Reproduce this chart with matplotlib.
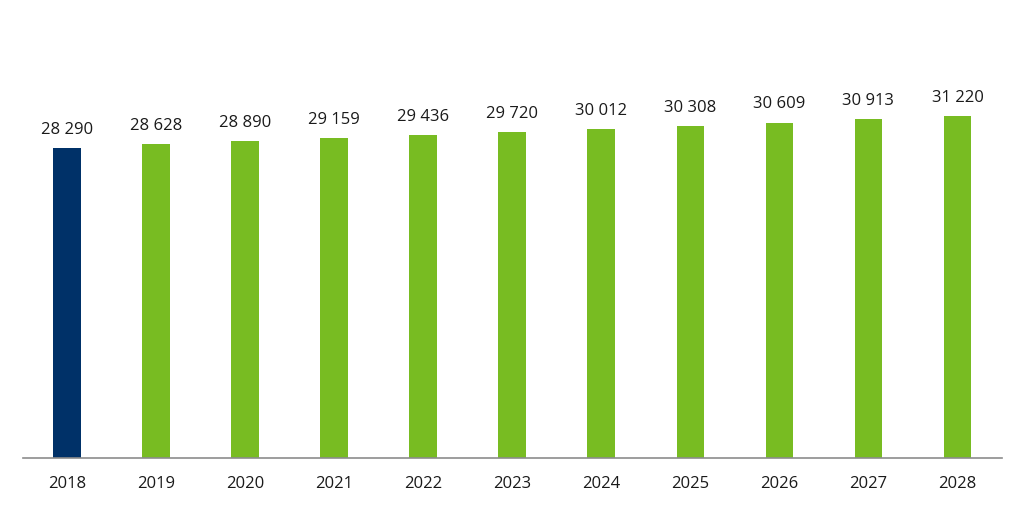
import matplotlib.pyplot as plt

# Datos
years = ['2018', '2019', '2020', '2021', '2022', '2023', '2024', '2025', '2026', '2027', '2028']
values = [28290, 28628, 28890, 29159, 29436, 29720, 30012, 30308, 30609, 30913, 31220]
colors = ['#003168'] + ['#78BC22'] * 10

plt.rcParams['font.family'] = ['Open Sans', 'DejaVu Sans']

fig = plt.figure(figsize=(10.24, 5.06), dpi=100)
ax = fig.add_axes([0.022, 0.093, 0.9565, 0.758])

x = range(len(years))
bars = ax.bar(x, values, width=0.31, color=colors)

for xi, v in zip(x, values):
    txt = f'{v:,}'.replace(',', ' ')
    ax.annotate(txt, (xi, v), xytext=(0, 8), textcoords='offset points',
                ha='center', va='bottom', fontsize=12, color='#1a1a1a')

ax.set_xlim(-0.5, len(years) - 0.5)
ax.set_ylim(0, 35000)
ax.set_xticks(list(x))
ax.set_xticklabels(years, fontsize=12, color='#1a1a1a')
ax.tick_params(axis='x', length=0, pad=12)
ax.set_yticks([])

for s in ['top', 'right', 'left']:
    ax.spines[s].set_visible(False)
ax.spines['bottom'].set_color('#8c8c8c')
ax.spines['bottom'].set_linewidth(1.2)

fig.savefig('out.png', dpi=100)
